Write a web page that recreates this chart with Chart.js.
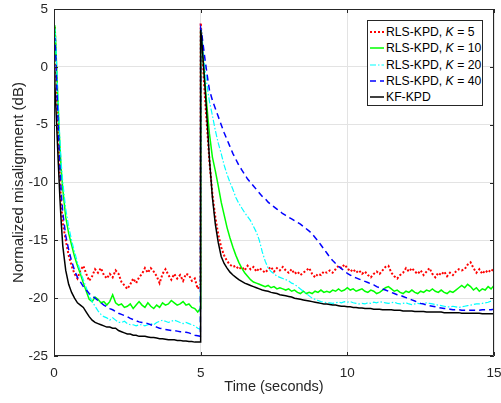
<!DOCTYPE html>
<html>
<head>
<meta charset="utf-8">
<script src="https://cdn.jsdelivr.net/npm/chart.js@4/dist/chart.umd.min.js"></script>
<style>
    body { margin: 0; background: #fff; }
    #wrap { position: relative; width: 501px; height: 403px; }
    #legend {
        position: absolute; left: 367px; top: 20px; width: 116px; height: 86px;
        box-sizing: border-box; border: 1px solid #262626; background: #fff;
        padding-top: 3px; font-family: "Liberation Sans", Arial, sans-serif; font-size: 12.2px; color: #000;
    }
    .row { display: flex; align-items: center; height: 16.3px; white-space: nowrap; }
    .row svg { margin-left: 2px; margin-right: 0; }
</style>
</head>
<body>
<div id="wrap">
    <canvas id="chart" width="501" height="403"></canvas>
    <div id="legend"></div>
</div>
<script>
// time axis (seconds), restart of the filters at t = 5 s
const times = [
    0, 0.03, 0.06, 0.1, 0.15, 0.2, 0.25, 0.3,
    0.4, 0.5, 0.6, 0.7, 0.8, 0.9, 1.0, 1.1, 1.2, 1.3,
    1.4, 1.5, 1.6, 1.7, 1.8, 1.9, 2.0, 2.1, 2.2, 2.3,
    2.4, 2.5, 2.6, 2.7, 2.8, 2.9, 3.0, 3.1, 3.2, 3.3,
    3.4, 3.5, 3.6, 3.7, 3.8, 3.9, 4.0, 4.1, 4.2, 4.3,
    4.4, 4.5, 4.6, 4.7, 4.8, 4.9, 4.99,
    5.0, 5.03, 5.06, 5.1, 5.15, 5.2, 5.25, 5.3,
    5.4, 5.5, 5.6, 5.7, 5.8, 5.9, 6.0, 6.1, 6.2, 6.3,
    6.4, 6.5, 6.6, 6.7, 6.8, 6.9, 7.0, 7.1, 7.2, 7.3,
    7.4, 7.5, 7.6, 7.7, 7.8, 7.9, 8.0, 8.1, 8.2, 8.3,
    8.4, 8.5, 8.6, 8.7, 8.8, 8.9, 9.0, 9.1, 9.2, 9.3,
    9.4, 9.5, 9.6, 9.7, 9.8, 9.9, 10.0, 10.1, 10.2, 10.3,
    10.4, 10.5, 10.6, 10.7, 10.8, 10.9, 11.0, 11.1, 11.2, 11.3,
    11.4, 11.5, 11.6, 11.7, 11.8, 11.9, 12.0, 12.1, 12.2, 12.3,
    12.4, 12.5, 12.6, 12.7, 12.8, 12.9, 13.0, 13.1, 13.2, 13.3,
    13.4, 13.5, 13.6, 13.7, 13.8, 13.9, 14.0, 14.1, 14.2, 14.3,
    14.4, 14.5, 14.6, 14.7, 14.8, 14.9, 15.0
];

const rlsK5 = [
    0.5, 3.5, 1.0, -2.5, -6.2, -9.6, -12.0, -13.5,
    -15.0, -16.3, -17.2, -17.9, -18.3, -17.6, -17.2, -17.9, -18.5, -18.1,
    -17.5, -17.8, -17.4, -18.0, -18.3, -17.9, -18.2, -17.6, -17.9, -18.6,
    -18.9, -19.2, -18.8, -18.3, -18.7, -18.2, -17.9, -17.4, -17.8, -17.4,
    -17.7, -18.1, -18.7, -17.9, -17.5, -18.0, -18.4, -17.9, -18.3, -18.0,
    -18.5, -17.9, -18.0, -18.5, -18.3, -19.2, -18.8,
    3.8, 2.8, 1.2, -0.8, -2.8, -4.6, -6.4, -8.2,
    -11.0, -13.0, -14.5, -15.6, -16.3, -16.8, -17.1, -17.3, -17.2, -17.5,
    -17.3, -17.6, -17.2, -17.5, -17.3, -17.7, -17.4, -17.6, -17.8, -17.5,
    -17.3, -17.7, -17.4, -17.6, -17.3, -17.6, -17.8, -17.5, -17.9, -17.7,
    -18.0, -17.8, -17.6, -17.4, -17.9, -18.2, -17.9, -18.0, -17.7, -17.8,
    -17.6, -17.8, -17.5, -17.2, -17.4, -17.1, -17.4, -17.7, -17.5, -17.8,
    -17.6, -17.9, -17.7, -18.0, -18.2, -17.9, -17.7, -17.9, -17.6, -17.3,
    -17.2, -17.8, -18.1, -18.3, -18.0, -17.8, -17.4, -17.7, -17.4, -17.7,
    -17.9, -17.6, -18.0, -17.7, -17.4, -17.9, -18.2, -17.8, -18.0, -17.7,
    -18.1, -17.8, -18.0, -17.7, -17.5, -17.6, -17.5, -17.1, -16.9, -17.4,
    -17.8, -17.5, -17.9, -17.6, -17.8, -17.5, -17.7
];

const rlsK10 = [
    1.0, 3.6, 2.0, -0.8, -3.9, -6.8, -9.0, -10.6,
    -13.0, -14.4, -15.4, -16.4, -17.2, -17.9, -18.7, -19.4, -20.1, -20.3,
    -19.9, -20.1, -20.4, -20.3, -20.6, -20.3, -19.7, -20.4, -20.6, -20.5,
    -20.8, -20.7, -20.5, -20.9, -20.6, -20.3, -20.6, -20.8, -20.4, -20.7,
    -20.9, -20.6, -20.8, -20.4, -20.6, -20.5, -20.2, -20.4, -20.6, -20.5,
    -20.3, -20.6, -20.5, -20.8, -20.9, -21.2, -20.9,
    3.2, 2.5, 1.5, 0.2, -1.5, -3.0, -4.5, -5.8,
    -7.8, -9.0, -10.3, -11.7, -12.8, -13.9, -14.8, -15.6, -16.3, -16.9,
    -17.4, -17.8, -18.1, -18.4, -18.6, -18.7, -18.8, -18.9, -19.0, -18.9,
    -19.1, -19.0, -19.2, -19.1, -19.2, -19.3, -19.2, -19.4, -19.3, -19.5,
    -19.6, -19.4, -19.6, -19.5, -19.6, -19.4, -19.5, -19.3, -19.5, -19.4,
    -19.5, -19.3, -19.4, -19.2, -19.4, -19.3, -19.1, -19.3, -19.2, -19.4,
    -19.3, -19.2, -19.4, -19.5, -19.3, -19.4, -19.6, -19.5, -19.3, -19.1,
    -19.0, -19.2, -19.4, -19.3, -19.5, -19.6, -19.4, -19.5, -19.3, -19.5,
    -19.6, -19.4, -19.5, -19.3, -19.4, -19.2, -19.4, -19.5, -19.3, -19.5,
    -19.6, -19.4, -19.5, -19.3, -19.1, -18.9, -19.1, -18.8, -19.0, -19.3,
    -19.1, -19.4, -19.2, -19.3, -19.0, -19.2, -18.9
];

const rlsK20 = [
    1.0, 3.3, 2.2, -0.5, -3.5, -6.3, -8.5, -10.0,
    -12.3, -13.8, -15.0, -16.0, -16.9, -17.7, -18.4, -19.1, -19.8, -20.3,
    -20.7, -21.1, -21.4, -21.6, -21.7, -21.9, -21.7, -21.9, -22.1, -22.1,
    -22.0, -22.2, -22.3, -22.3, -22.4, -22.3, -22.3, -22.4, -22.3, -22.2,
    -22.3, -22.1, -22.0, -21.9, -22.0, -22.1, -22.0, -21.9, -22.0, -22.1,
    -22.2, -22.1, -22.2, -22.3, -22.4, -22.6, -22.7,
    3.5, 3.0, 2.2, 1.0, -0.2, -1.3, -2.2, -3.0,
    -4.2, -5.5, -6.6, -7.5, -8.5, -9.3, -10.0, -10.6, -11.3, -11.8,
    -12.2, -12.6, -12.95, -13.3, -13.8, -14.3, -15.0, -16.0, -16.8, -17.4,
    -17.7, -17.9, -18.1, -18.2, -18.3, -18.4, -18.5, -18.7, -18.8, -19.0,
    -19.2, -19.4, -19.6, -19.8, -20.0, -20.1, -20.2, -20.3, -20.35, -20.4,
    -20.4, -20.45, -20.4, -20.35, -20.4, -20.3, -20.35, -20.3, -20.4, -20.45,
    -20.5, -20.45, -20.5, -20.4, -20.45, -20.35, -20.4, -20.3, -20.35, -20.4,
    -20.45, -20.4, -20.35, -20.45, -20.5, -20.45, -20.4, -20.5, -20.55, -20.5,
    -20.45, -20.5, -20.45, -20.4, -20.45, -20.5, -20.55, -20.6, -20.65, -20.7,
    -20.75, -20.75, -20.7, -20.75, -20.8, -20.75, -20.7, -20.65, -20.6, -20.55,
    -20.5, -20.5, -20.45, -20.4, -20.35, -20.25, -20.2
];

const rlsK40 = [
    0.5, 2.5, 1.0, -2.0, -5.5, -8.6, -11.0, -12.6,
    -14.6, -15.8, -16.8, -17.6, -18.2, -18.6, -19.0, -19.3, -19.6, -19.8,
    -20.0, -20.2, -20.4, -20.6, -20.75, -20.9, -21.0, -21.15, -21.3, -21.4,
    -21.5, -21.6, -21.75, -21.85, -21.95, -22.05, -22.1, -22.15, -22.2, -22.3,
    -22.4, -22.5, -22.6, -22.65, -22.7, -22.75, -22.8, -22.8, -22.85, -22.9,
    -22.9, -22.95, -23.0, -23.1, -23.2, -23.25, -23.3,
    3.3, 3.0, 2.4, 1.6, 0.6, -0.3, -1.2, -2.0,
    -2.9, -3.6, -4.3, -5.0, -5.7, -6.3, -6.9, -7.5, -8.0, -8.5,
    -8.9, -9.3, -9.7, -10.0, -10.3, -10.6, -10.9, -11.2, -11.4, -11.7,
    -11.9, -12.1, -12.3, -12.5, -12.7, -12.85, -13.0, -13.15, -13.3, -13.45,
    -13.6, -13.8, -14.0, -14.2, -14.45, -14.75, -15.05, -15.4, -15.75, -16.1,
    -16.45, -16.75, -17.0, -17.25, -17.45, -17.65, -17.85, -18.0, -18.15, -18.25,
    -18.35, -18.45, -18.55, -18.65, -18.75, -18.85, -19.0, -19.1, -19.2, -19.3,
    -19.4, -19.5, -19.6, -19.7, -19.75, -19.85, -19.95, -20.05, -20.15, -20.25,
    -20.35, -20.45, -20.5, -20.6, -20.65, -20.7, -20.75, -20.8, -20.85, -20.9,
    -20.9, -20.95, -21.0, -21.0, -21.0, -21.05, -21.05, -21.05, -21.05, -21.05,
    -21.05, -21.05, -21.0, -21.0, -21.0, -21.0, -20.95
];

const kfKpd = [
    -0.3, -1.5, -3.3, -5.6, -8.5, -11.3, -13.6, -15.5,
    -17.6, -18.8, -19.5, -20.0, -20.4, -20.6, -20.8, -21.2, -21.6, -21.9,
    -22.1, -22.2, -22.3, -22.4, -22.5, -22.5, -22.6, -22.6, -22.8, -22.9,
    -23.0, -23.1, -23.1, -23.2, -23.2, -23.3, -23.3, -23.3, -23.35, -23.4,
    -23.4, -23.45, -23.5, -23.5, -23.55, -23.6, -23.6, -23.6, -23.65, -23.65,
    -23.7, -23.7, -23.75, -23.75, -23.8, -23.8, -23.8,
    3.2, 2.6, 1.5, 0.0, -1.8, -3.8, -5.9, -8.0,
    -11.3, -13.6, -15.2, -16.4, -17.0, -17.4, -17.75, -18.0, -18.2, -18.4,
    -18.55, -18.7, -18.8, -18.9, -19.0, -19.1, -19.2, -19.3, -19.35, -19.4,
    -19.5, -19.55, -19.6, -19.7, -19.75, -19.8, -19.85, -19.9, -20.0, -20.05,
    -20.1, -20.15, -20.2, -20.25, -20.3, -20.35, -20.4, -20.45, -20.5, -20.5,
    -20.55, -20.6, -20.6, -20.65, -20.7, -20.7, -20.75, -20.75, -20.8, -20.8,
    -20.85, -20.85, -20.9, -20.9, -20.9, -20.95, -20.95, -20.95, -21.0, -21.0,
    -21.0, -21.0, -21.05, -21.05, -21.05, -21.1, -21.1, -21.1, -21.1, -21.15,
    -21.15, -21.15, -21.15, -21.2, -21.2, -21.2, -21.2, -21.2, -21.2, -21.25,
    -21.25, -21.25, -21.25, -21.25, -21.25, -21.3, -21.3, -21.3, -21.3, -21.3,
    -21.3, -21.3, -21.35, -21.35, -21.35, -21.35, -21.35
];

const xTicks = [0, 5, 10, 15];
const yTicks = [5, 0, -5, -10, -15, -20, -25];

const series = [
    { label: 'RLS-KPD, <i>K</i> = 5', values: rlsK5, color: '#ff0000', width: 2, dash: [2, 2], order: 5 },
    { label: 'RLS-KPD, <i>K</i> = 10', values: rlsK10, color: '#00ff00', width: 1.5, dash: [], order: 4 },
    { label: 'RLS-KPD, <i>K</i> = 20', values: rlsK20, color: '#00ffff', width: 1.2, dash: [6, 2, 1.5, 2], order: 3 },
    { label: 'RLS-KPD, <i>K</i> = 40', values: rlsK40, color: '#0000ff', width: 1.5, dash: [6, 4], order: 2 },
    { label: 'KF-KPD', values: kfKpd, color: '#000000', width: 1.5, dash: [], order: 1 }
];

const FONT = "'Liberation Sans', Arial, sans-serif";
const AXIS_COLOR = '#262626';

// box + inward tick marks like matlab axes
const axesBox = {
    id: 'axesBox',
    afterDraw(chart) {
        const { ctx, chartArea: a, scales: { x, y } } = chart;
        ctx.save();
        ctx.strokeStyle = AXIS_COLOR;
        ctx.lineWidth = 1;
        ctx.beginPath();
        ctx.rect(a.left + 0.5, a.top + 0.5, a.right - a.left - 1, a.bottom - a.top - 1);
        xTicks.forEach(v => {
            const px = Math.round(x.getPixelForValue(v)) + 0.5;
            ctx.moveTo(px, a.bottom); ctx.lineTo(px, a.bottom - 4);
            ctx.moveTo(px, a.top); ctx.lineTo(px, a.top + 4);
        });
        yTicks.forEach(v => {
            const py = Math.round(y.getPixelForValue(v)) + 0.5;
            ctx.moveTo(a.left, py); ctx.lineTo(a.left + 4, py);
            ctx.moveTo(a.right, py); ctx.lineTo(a.right - 4, py);
        });
        ctx.stroke();
        ctx.restore();
    }
};

new Chart(document.getElementById('chart'), {
    type: 'line',
    data: {
        datasets: series.map(s => ({
            label: s.label,
            data: times.map((t, i) => ({ x: t, y: s.values[i] })),
            borderColor: s.color,
            backgroundColor: s.color,
            borderWidth: s.width,
            borderDash: s.dash,
            pointRadius: 0,
            fill: false,
            tension: 0,
            order: s.order
        }))
    },
    options: {
        responsive: false,
        devicePixelRatio: 1,
        animation: false,
        layout: { padding: { left: 0, right: 7, top: 9, bottom: 0 } },
        plugins: {
            legend: { display: false },
            tooltip: { enabled: false }
        },
        scales: {
            x: {
                type: 'linear',
                min: 0,
                max: 15,
                afterBuildTicks: s => { s.ticks = xTicks.map(v => ({ value: v })); },
                afterFit: s => { s.height = 47; s.paddingLeft = 0; s.paddingRight = 0; },
                border: { display: false },
                grid: { color: '#e3e3e3', drawTicks: false },
                ticks: { color: AXIS_COLOR, padding: 9, maxRotation: 0, font: { family: FONT, size: 13.5 } },
                title: {
                    display: true,
                    text: 'Time (seconds)',
                    color: AXIS_COLOR,
                    font: { family: FONT, size: 14.5 },
                    padding: { top: 0, bottom: 7.5 }
                }
            },
            y: {
                type: 'linear',
                min: -25,
                max: 5,
                afterBuildTicks: s => { s.ticks = yTicks.map(v => ({ value: v })); },
                afterFit: s => { s.width = 54; s.paddingTop = 0; s.paddingBottom = 0; },
                border: { display: false },
                grid: { color: '#e3e3e3', drawTicks: false },
                ticks: { color: AXIS_COLOR, padding: 6, font: { family: FONT, size: 13.5 } },
                title: {
                    display: true,
                    text: 'Normalized misalignment (dB)',
                    color: AXIS_COLOR,
                    font: { family: FONT, size: 15 },
                    padding: { top: 9.5, bottom: 0 }
                }
            }
        }
    },
    plugins: [axesBox]
});

// legend box (top right, inside the axes)
const legend = document.getElementById('legend');
series.forEach(s => {
    const row = document.createElement('div');
    row.className = 'row';
    row.innerHTML = `
        <svg width="14" height="4"><line x1="0" y1="2" x2="14" y2="2" stroke="${s.color}"
            stroke-width="${s.width}" stroke-dasharray="${s.dash.join(' ')}"/></svg>
        <span style="margin-left:2px">${s.label}</span>`;
    legend.appendChild(row);
});
</script>
</body>
</html>
